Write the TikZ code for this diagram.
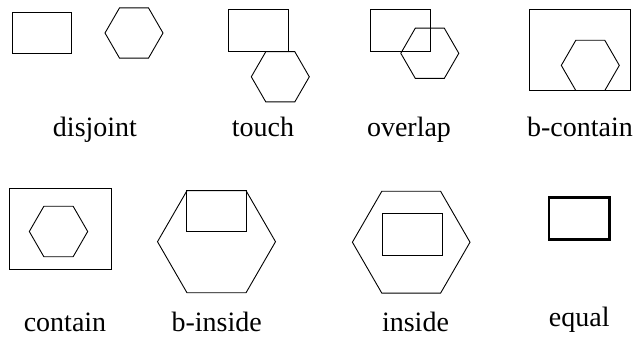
\documentclass[tikz,border=0pt]{standalone}
\usepackage{fontspec}
\setmainfont{Liberation Serif}
\tikzset{
  shp/.style={draw=black, line width=0.9pt, line join=miter},
  thickshp/.style={draw=black, line width=2.4pt},
  lbl/.style={anchor=base, inner sep=0pt, font=\fontsize{28}{30}\selectfont}
}
\newcommand\hexag[3]{\draw[shp] (#1,#2) +(0:#3) -- +(60:#3) -- +(120:#3) -- +(180:#3) -- +(240:#3) -- +(300:#3) -- cycle;}
\begin{document}
\begin{tikzpicture}[x=1pt,y=-1pt]
\useasboundingbox (0,0) rectangle (636,339);
% disjoint
\draw[shp] (12,12) rectangle (71,53);
\hexag{134}{33}{29}
\node[lbl] (t1) at (95,136.7) {disjoint};
% touch
\draw[shp] (228,9.5) rectangle (288,51.7);
\hexag{280.3}{76.8}{29}
\node[lbl] (t2) at (263,136.7) {touch};
% overlap
\draw[shp] (370.7,9.5) rectangle (430,51.7);
\hexag{429.8}{53.3}{29}
\node[lbl] (t3) at (409,136.7) {overlap};
% b-contain
\draw[shp] (529,9.5) rectangle (630,90.5);
\hexag{590.3}{65.4}{29}
\node[lbl] (t4) at (580,137) {b-contain};
% contain
\draw[shp] (9.3,188.3) rectangle (111,269.3);
\hexag{58.5}{231.5}{29.2}
\node[lbl] (t5) at (65,331.7) {contain};
% b-inside
\hexag{216.5}{241.7}{59}
\draw[shp] (186.9,190.6) rectangle (246.1,231.7);
\node[lbl] (t6) at (216.7,331.7) {b-inside};
% inside
\hexag{411.2}{242.2}{58.8}
\draw[shp] (382.7,213.3) rectangle (442.7,255.3);
\node[lbl] (t7) at (415.5,331.7) {inside};
% equal
\draw[thickshp] (549,197.3) rectangle (609.3,239.3);
\node[lbl] (t8) at (579.3,326.7) {equal};
\end{tikzpicture}
\end{document}
